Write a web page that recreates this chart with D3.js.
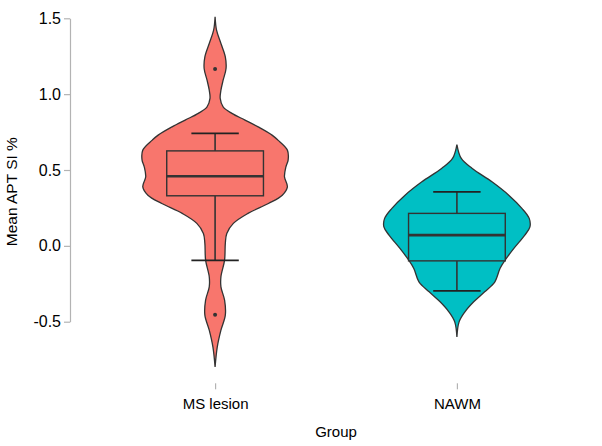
<!DOCTYPE html>
<html>
<head>
<meta charset="utf-8">
<script src="https://cdn.jsdelivr.net/npm/d3@7"></script>
<style>
  body { margin: 0; background: #fff; }
  svg { display: block; font-family: "Liberation Sans", Arial, sans-serif; }
</style>
</head>
<body>
<div id="chart"></div>
<script>

var W = 602, H = 446

var groups = ["MS lesion", "NAWM"]
var fills = ["#F8766D", "#00BFC4"]
var yTicks = [-0.5, 0, 0.5, 1.0, 1.5]

// violin outline: value -> relative density (1 = widest)
var msValues  = [1.510, 1.422, 1.334, 1.246, 1.169, 1.092, 1.026, 0.972, 0.916, 0.873, 0.829, 0.784, 0.730, 0.697, 0.631, 0.565, 0.521, 0.455, 0.389, 0.334, 0.279, 0.214, 0.148, 0.082, 0.016, -0.094, -0.204, -0.270, -0.358, -0.457, -0.556, -0.666, -0.798]
var msDensity = [0, 0.02, 0.08, 0.14, 0.15, 0.11, 0.08, 0.07, 0.11, 0.23, 0.41, 0.59, 0.78, 0.86, 0.99, 1.0, 0.97, 0.95, 0.99, 0.92, 0.73, 0.45, 0.25, 0.16, 0.14, 0.13, 0.08, 0.08, 0.13, 0.14, 0.08, 0.03, 0]

var nawmValues  = [0.668, 0.576, 0.510, 0.422, 0.334, 0.247, 0.181, 0.125, 0.071, -0.017, -0.094, -0.149, -0.237, -0.303, -0.369, -0.435, -0.501, -0.600]
var nawmDensity = [0, 0.06, 0.21, 0.48, 0.71, 0.89, 0.99, 1.0, 0.93, 0.78, 0.66, 0.59, 0.52, 0.38, 0.23, 0.11, 0.03, 0]

// box stats: lower whisker, q1, median, q3, upper whisker
var msBox   = [-0.096, 0.330, 0.459, 0.626, 0.741]
var nawmBox = [-0.297, -0.099, 0.071, 0.214, 0.356]
var msOutliers = [1.165, -0.455]
var nawmOutliers = []

var series = [
  { name: groups[0], vals: msValues, dens: msDensity, box: msBox, out: msOutliers, fill: fills[0] },
  { name: groups[1], vals: nawmValues, dens: nawmDensity, box: nawmBox, out: nawmOutliers, fill: fills[1] }
]

var svg = d3.select("#chart").append("svg")
  .attr("width", W)
  .attr("height", H)

var x = d3.scalePoint()
  .domain(groups)
  .range([70, 602])
  .padding(0.6)

var y = d3.scaleLinear()
  .domain([-0.5, 1.5])
  .range([321.7, 18.3])

var step = x.step()
var w = d3.scaleLinear().domain([0, 1]).range([0, 0.302 * step])

// y axis
var yAxis = svg.append("g")
  .attr("transform", "translate(70,0)")
  .call(d3.axisLeft(y).tickValues(yTicks).tickSize(6).tickSizeOuter(0).tickPadding(3)
    .tickFormat(d => d.toFixed(1)))
yAxis.select(".domain").attr("stroke", "#b3b3b3").attr("stroke-width", 1.2)
yAxis.selectAll(".tick line").attr("stroke", "#b3b3b3").attr("stroke-width", 1.2)
yAxis.selectAll(".tick text").attr("fill", "#000").style("font-size", "16px").style("font-family", "Liberation Sans, Arial, sans-serif")

// x axis, ticks only
var xAxis = svg.append("g")
  .attr("transform", "translate(0,383.3)")
  .call(d3.axisBottom(x).tickSize(6).tickPadding(9))
xAxis.select(".domain").remove()
xAxis.selectAll(".tick line").attr("stroke", "#b3b3b3").attr("stroke-width", 1.2)
xAxis.selectAll(".tick text").attr("fill", "#000").style("font-size", "15px").style("font-family", "Liberation Sans, Arial, sans-serif")

svg.append("text")
  .attr("x", 336)
  .attr("y", 436.7)
  .attr("text-anchor", "middle")
  .style("font-size", "15px")
  .text("Group")

svg.append("text")
  .attr("transform", "translate(17,191.7) rotate(-90)")
  .attr("text-anchor", "middle")
  .style("font-size", "15.5px")
  .text("Mean APT SI %")

var g = svg.selectAll(".grp")
  .data(series)
  .enter().append("g")
  .attr("class", "grp")

// violins
g.append("path")
  .attr("d", function (s) {
    var cx = x(s.name)
    var pts = s.vals.map((v, i) => ({ v: v, d: s.dens[i] }))
    return d3.area()
      .curve(d3.curveCatmullRom.alpha(0.5))
      .y(p => y(p.v))
      .x0(p => cx - w(p.d))
      .x1(p => cx + w(p.d))(pts)
  })
  .attr("fill", s => s.fill)
  .attr("stroke", "#333")
  .attr("stroke-width", 1.3)

// whiskers
g.append("line")
  .attr("x1", s => x(s.name)).attr("x2", s => x(s.name))
  .attr("y1", s => y(s.box[0])).attr("y2", s => y(s.box[1]))
  .attr("stroke", "#333").attr("stroke-width", 1.6)
g.append("line")
  .attr("x1", s => x(s.name)).attr("x2", s => x(s.name))
  .attr("y1", s => y(s.box[3])).attr("y2", s => y(s.box[4]))
  .attr("stroke", "#333").attr("stroke-width", 1.6)

// whisker caps
;[0, 4].forEach(function (k) {
  g.append("line")
    .attr("x1", s => x(s.name) - 0.098 * step).attr("x2", s => x(s.name) + 0.098 * step)
    .attr("y1", s => y(s.box[k])).attr("y2", s => y(s.box[k]))
    .attr("stroke", "#222").attr("stroke-width", 1.8)
})

// box
g.append("rect")
  .attr("x", s => x(s.name) - 0.2 * step)
  .attr("width", 0.4 * step)
  .attr("y", s => y(s.box[3]))
  .attr("height", s => y(s.box[1]) - y(s.box[3]))
  .attr("fill", s => s.fill)
  .attr("stroke", "#333")
  .attr("stroke-width", 1.4)

g.append("line")
  .attr("x1", s => x(s.name) - 0.2 * step).attr("x2", s => x(s.name) + 0.2 * step)
  .attr("y1", s => y(s.box[2])).attr("y2", s => y(s.box[2]))
  .attr("stroke", "#333").attr("stroke-width", 2.6)

// outliers
g.selectAll(".out")
  .data(s => s.out.map(v => ({ v: v, name: s.name })))
  .enter().append("circle")
  .attr("class", "out")
  .attr("cx", d => x(d.name))
  .attr("cy", d => y(d.v))
  .attr("r", 2)
  .attr("fill", "#333")

</script>
</body>
</html>
